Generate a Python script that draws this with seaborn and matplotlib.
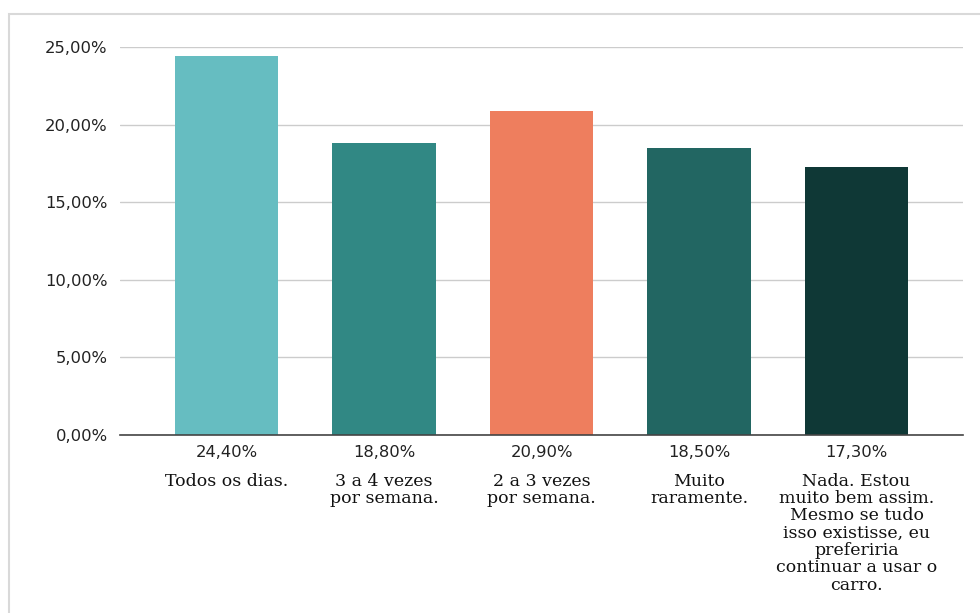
import matplotlib
matplotlib.use("Agg")
import matplotlib.pyplot as plt
import matplotlib.transforms as mtransforms
from matplotlib.patches import Rectangle
from matplotlib.ticker import FuncFormatter, MultipleLocator
import pandas as pd
import seaborn as sns

categories = [
    "Todos os dias.",
    "3 a 4 vezes\npor semana.",
    "2 a 3 vezes\npor semana.",
    "Muito\nraramente.",
    "Nada. Estou\nmuito bem assim.\nMesmo se tudo\nisso existisse, eu\npreferiria\ncontinuar a usar o\ncarro.",
]
values = [24.40, 18.80, 20.90, 18.50, 17.30]
colors = ["#66BDC1", "#318884", "#EE7E5E", "#226662", "#0F3836"]

df = pd.DataFrame({"categoria": categories, "valor": values})

sns.set_theme(style="white")
plt.rcParams["font.family"] = ["DejaVu Sans"]

fig = plt.figure(figsize=(9.8, 6.13), dpi=100)
fig.patch.set_facecolor("white")

# light frame around the chart area
fig.patches.append(Rectangle((9 / 980, -0.05), 1.2, 1 - 14 / 613 + 0.05,
                             transform=fig.transFigure, fill=False,
                             edgecolor="#D9D9D9", linewidth=1.5, zorder=0))

ax = fig.add_axes([120 / 980, 1 - 435 / 613, (963 - 120) / 980, (435 - 47) / 613])

sns.barplot(data=df, x="categoria", y="valor", hue="categoria",
            palette=colors, legend=False, width=0.655, ax=ax,
            saturation=1, linewidth=0, zorder=2)

ax.set_xlim(-0.676, 4.676)
ax.set_ylim(0, 25)
ax.yaxis.set_major_locator(MultipleLocator(5))
ax.yaxis.set_major_formatter(FuncFormatter(lambda v, p: f"{v:.2f}%".replace(".", ",")))
ax.grid(axis="y", color="#CCCCCC", linewidth=1, zorder=0)
ax.set_axisbelow(True)

for s in ["top", "right", "left"]:
    ax.spines[s].set_visible(False)
ax.spines["bottom"].set_color("#444444")
ax.spines["bottom"].set_linewidth(1.2)
ax.spines["bottom"].set_zorder(3)

ax.set_xlabel("")
ax.set_ylabel("")
ax.tick_params(axis="y", length=0, pad=9, labelsize=11.8, labelcolor="#222222")
ax.tick_params(axis="x", length=0, pad=27)
ax.set_xticks(range(len(categories)))
ax.set_xticklabels(categories, family=["DejaVu Serif"],
                   fontsize=12.5, linespacing=1.03, color="#111111", va="top")

# value labels under each bar
trans = mtransforms.blended_transform_factory(ax.transData, ax.transAxes)
for i, v in enumerate(values):
    ax.text(i, -0.044, f"{v:.2f}%".replace(".", ","), transform=trans,
            ha="center", va="center", fontsize=11.8, color="#222222")

fig.savefig("out.png", dpi=100, facecolor="white")
